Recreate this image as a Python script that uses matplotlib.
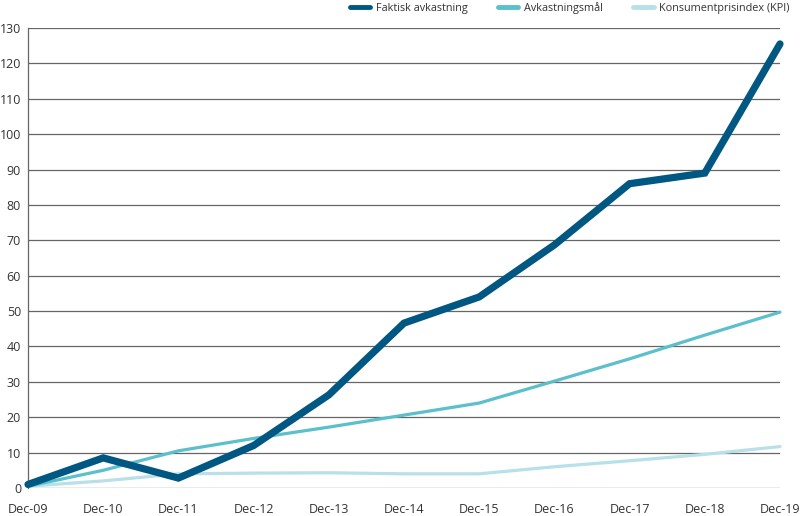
import numpy as np
import matplotlib.pyplot as plt

plt.rcParams['font.family'] = ['Open Sans', 'DejaVu Sans']

# Data
labels = ["Dec-09", "Dec-10", "Dec-11", "Dec-12", "Dec-13", "Dec-14",
          "Dec-15", "Dec-16", "Dec-17", "Dec-18", "Dec-19"]
faktisk = [1.0, 8.5, 2.8, 12.0, 26.3, 46.6, 54.0, 68.7, 86.0, 89.0, 125.5]
mal = [0.5, 5.0, 10.5, 14.0, 17.2, 20.6, 24.0, 30.2, 36.5, 43.2, 49.7]
kpi = [0.5, 2.0, 4.0, 4.2, 4.3, 4.0, 4.0, 6.0, 7.7, 9.5, 11.7]

dark = "#005782"
mid = "#5bbfcc"
light = "#b7e0e8"
grid_col = "#666666"

fig = plt.figure(figsize=(8, 5.16), dpi=100)
ax = fig.add_axes([0.035, 0.0543, 0.94, 0.8914])

x = np.arange(len(labels))
ax.plot(x, kpi, color=light, lw=2.3, label="Konsumentprisindex (KPI)", zorder=3,
        clip_on=False, solid_capstyle="round")
ax.plot(x, mal, color=mid, lw=2.3, label="Avkastningsmål", zorder=4,
        clip_on=False, solid_capstyle="round")
ax.plot(x, faktisk, color=dark, lw=5.2, label="Faktisk avkastning", zorder=5,
        clip_on=False, solid_capstyle="round", solid_joinstyle="miter")

ax.set_xlim(0, len(labels) - 1)
ax.set_ylim(0, 130)
ax.set_yticks(range(0, 131, 10))
ax.set_xticks(x)
ax.set_xticklabels(labels)
ax.tick_params(length=0, labelsize=9, colors="#333333")
ax.tick_params(axis="y", pad=5)
ax.tick_params(axis="x", pad=11)
ax.yaxis.grid(True, color=grid_col, lw=0.9)
ax.set_axisbelow(True)
for s in ["top", "right", "bottom"]:
    ax.spines[s].set_visible(False)
ax.spines["left"].set_color(grid_col)
ax.spines["left"].set_linewidth(0.9)

handles, lbls = ax.get_legend_handles_labels()
order = [2, 1, 0]
leg = ax.legend([handles[i] for i in order], [lbls[i] for i in order],
                loc="upper right", bbox_to_anchor=(0.993, 1.006),
                bbox_transform=fig.transFigure,
                ncol=3, frameon=False, fontsize=7.8, handlelength=1.9,
                columnspacing=2.8, handletextpad=0.5, borderaxespad=0.05,
                labelcolor="#333333")
for h in leg.legend_handles:
    h.set_linewidth(3.5)
    h.set_solid_capstyle("round")

fig.savefig("out.png", dpi=100)
